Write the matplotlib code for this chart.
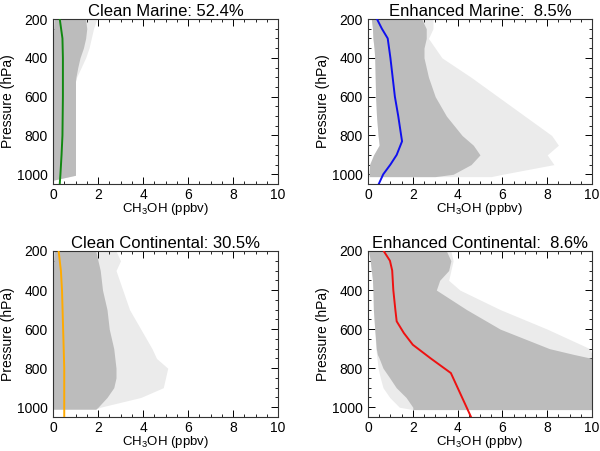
import matplotlib
matplotlib.use("Agg")
import matplotlib.pyplot as plt
from matplotlib.ticker import MultipleLocator

plt.rcParams['font.family'] = ['Liberation Sans', 'DejaVu Sans']
plt.rcParams['mathtext.fontset'] = 'custom'
plt.rcParams['mathtext.rm'] = 'Liberation Sans'
plt.rcParams['mathtext.default'] = 'regular'

# ---- Clean Marine ----
cm_titles = "Clean Marine: 52.4%"
cm_p = [200, 250, 300, 350, 400, 450, 500, 520, 700, 900, 1005, 1030]
cm_left = [0.05, 0.03, 0.02, 0.02, 0.02, 0.02, 0.02, 0.02, 0.02, 0.02, 0.02, 0.02]
cm_dense_right = [1.45, 1.5, 1.45, 1.35, 1.2, 1.1, 1.02, 1.0, 1.0, 1.0, 1.0, 0.02]
cm_faint_right = [1.95, 1.8, 1.7, 1.6, 1.45, 1.25, 1.05, 1.0, 1.0, 1.0, 1.0, 0.02]
cm_mean_p = [200, 250, 300, 400, 600, 800, 900, 1000, 1050]
cm_mean = [0.3, 0.36, 0.42, 0.44, 0.44, 0.42, 0.38, 0.33, 0.3]

# ---- Enhanced Marine ----
em_title = "Enhanced Marine:  8.5%"
em_p = [200, 250, 300, 350, 400, 500, 600, 700, 800, 850, 900, 950, 1000, 1012]
em_left = [0.15, 0.2, 0.22, 0.27, 0.3, 0.32, 0.34, 0.38, 0.45, 0.5, 0.25, 0.07, 0.05, 0.05]
em_dense_right = [2.4, 2.6, 2.6, 2.5, 2.5, 2.7, 3.0, 3.5, 4.2, 4.7, 5.0, 4.6, 3.8, 3.0]
em_faint_right = [2.9, 2.9, 2.7, 3.0, 3.3, 4.6, 5.8, 7.0, 8.2, 8.5, 8.0, 8.3, 6.0, 5.5]
em_mean_p = [200, 250, 300, 400, 500, 600, 700, 800, 830, 900, 950, 1000, 1050]
em_mean = [0.4, 0.62, 0.88, 1.0, 1.1, 1.2, 1.35, 1.48, 1.52, 1.28, 1.0, 0.68, 0.48]

# ---- Clean Continental ----
cc_title = "Clean Continental: 30.5%"
cc_p = [200, 250, 300, 400, 500, 600, 700, 750, 800, 850, 900, 950, 1000, 1010]
cc_left = [0.05, 0.03, 0.02, 0.02, 0.02, 0.02, 0.02, 0.02, 0.02, 0.02, 0.02, 0.02, 0.02, 0.02]
cc_dense_right = [1.9, 2.0, 2.1, 2.2, 2.4, 2.5, 2.7, 2.75, 2.8, 2.8, 2.7, 2.4, 2.0, 1.9]
cc_faint_right = [2.8, 3.0, 2.8, 3.1, 3.4, 3.9, 4.4, 4.6, 5.1, 5.0, 4.9, 3.9, 2.1, 1.9]
cc_mean_p = [200, 300, 400, 600, 800, 1000, 1050]
cc_mean = [0.25, 0.35, 0.4, 0.45, 0.5, 0.5, 0.5]

# ---- Enhanced Continental ----
ec_title = "Enhanced Continental:  8.6%"
ec_p = [200, 250, 300, 350, 400, 500, 600, 700, 730, 750, 800, 850, 900, 950, 1000, 1012]
ec_left = [0.03, 0.1, 0.15, 0.2, 0.22, 0.24, 0.3, 0.37, 0.42, 0.5, 0.67, 0.97, 1.26, 1.7, 2.0, 2.0]
ec_faint_left = [0.03, 0.1, 0.15, 0.2, 0.22, 0.24, 0.3, 0.35, 0.38, 0.4, 0.45, 0.55, 0.67, 0.97, 1.4, 2.0]
ec_dense_right = [3.5, 3.7, 3.6, 3.2, 3.05, 4.4, 5.9, 8.1, 9.2, 10.0, 10.0, 10.0, 10.0, 10.0, 10.0, 10.0]
ec_faint_right = [3.7, 3.8, 3.7, 3.6, 4.1, 5.9, 8.0, 9.9, 10.0, 10.0, 10.0, 10.0, 10.0, 10.0, 10.0, 10.0]
ec_mean_p = [200, 250, 300, 400, 500, 560, 620, 680, 750, 825, 900, 1000, 1050]
ec_mean = [0.7, 0.98, 1.08, 1.13, 1.22, 1.28, 1.6, 2.0, 2.8, 3.7, 4.0, 4.4, 4.6]

xlabel = r"CH$_3$OH (ppbv)"
ylabel = "Pressure (hPa)"
x_ticks = [0, 2, 4, 6, 8, 10]
y_ticks = [200, 400, 600, 800, 1000]

DENSE = '#bcbcbc'
FAINT = '#ebebeb'

fig = plt.figure(figsize=(6.0, 4.51), dpi=100)
W, H = 600.0, 451.0
boxes = [(53, 19, 278, 184), (368, 19, 592, 184), (53, 251, 278, 417), (368, 251, 592, 417)]
axes = []
for (l, t, r, b) in boxes:
    axes.append(fig.add_axes([l / W, 1 - b / H, (r - l) / W, (b - t) / H]))

panels = [
    (cm_titles, cm_p, cm_left, cm_left, cm_dense_right, cm_faint_right, cm_mean_p, cm_mean, '#118811'),
    (em_title, em_p, em_left, em_left, em_dense_right, em_faint_right, em_mean_p, em_mean, '#1010ee'),
    (cc_title, cc_p, cc_left, cc_left, cc_dense_right, cc_faint_right, cc_mean_p, cc_mean, '#ffaa00'),
    (ec_title, ec_p, ec_left, ec_faint_left, ec_dense_right, ec_faint_right, ec_mean_p, ec_mean, '#ee1111'),
]

for ax, (title, p, left, fleft, dright, fright, mp, mv, col) in zip(axes, panels):
    ax.fill_betweenx(p, fleft, fright, color=FAINT, lw=0, zorder=1)
    ax.fill_betweenx(p, left, dright, color=DENSE, lw=0, zorder=2)
    ax.plot(mv, mp, color=col, lw=1.4, zorder=3)
    ax.set_xlim(0, 10)
    ax.set_ylim(1050, 200)
    ax.set_xticks(x_ticks)
    ax.set_yticks(y_ticks)
    ax.xaxis.set_minor_locator(MultipleLocator(0.5))
    ax.yaxis.set_minor_locator(MultipleLocator(50))
    ax.tick_params(which='both', direction='in', top=True, right=True, labelsize=10)
    ax.tick_params(axis='x', pad=3)
    ax.tick_params(axis='y', pad=4)
    ax.tick_params(which='major', length=5, width=0.7)
    ax.tick_params(which='minor', length=2.5, width=0.6)
    for s in ax.spines.values():
        s.set_linewidth(0.8)
        s.set_color('#333333')
    ax.set_title(title, fontsize=12, pad=2)
    ax.set_xlabel(xlabel, fontsize=9.5, labelpad=-0.5)
    ax.set_ylabel(ylabel, fontsize=10, labelpad=1)

fig.savefig('out.png', dpi=100)
